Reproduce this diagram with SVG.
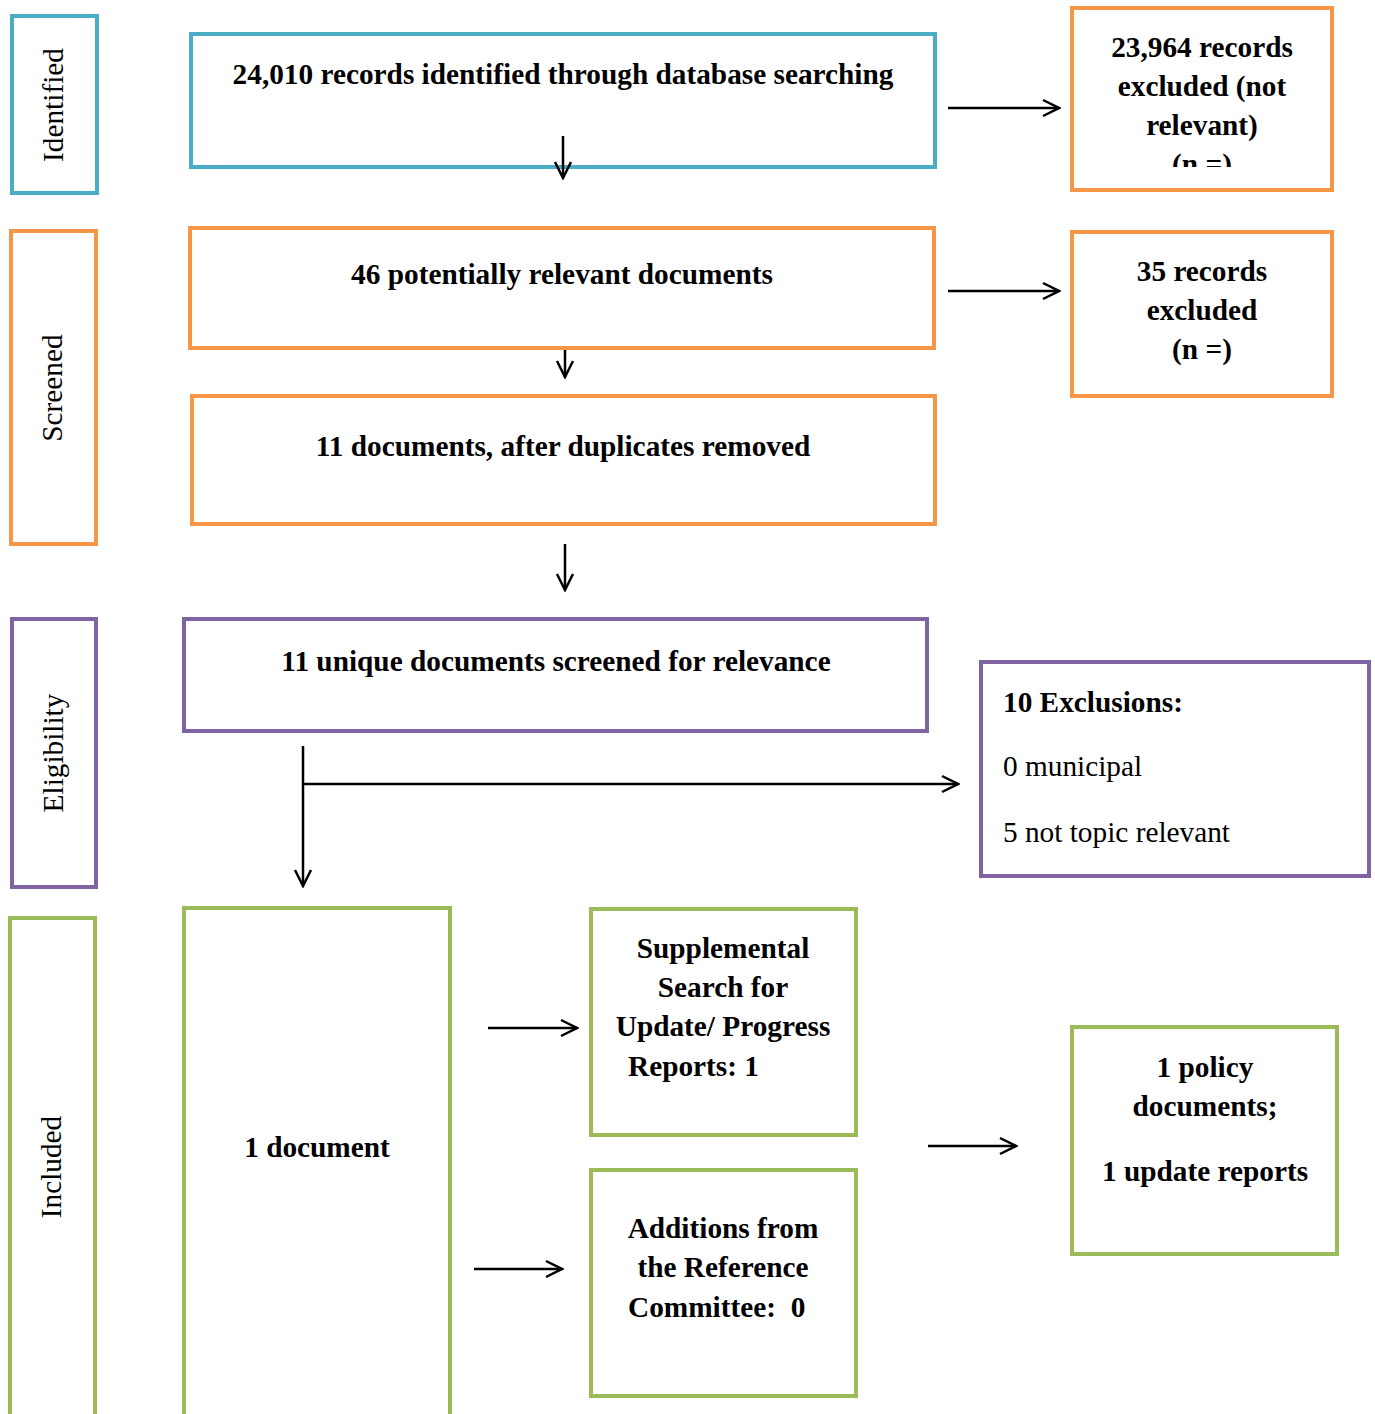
<svg xmlns="http://www.w3.org/2000/svg" width="1375" height="1414" viewBox="0 0 1375 1414">
<style>
.b{fill:#fff;stroke-width:4}
.blue{stroke:#4BACC6}.org{stroke:#F79646}.pur{stroke:#8064A2}.grn{stroke:#9BBB59}
.t{font-family:"Liberation Serif","Times New Roman",serif;font-size:29.3px;fill:#000}
.bd{font-weight:bold}
.c{text-anchor:middle}
.ln{stroke:#000;stroke-width:2.5;fill:none}
</style>
<defs>
<marker id="ah" viewBox="0 0 20 20" refX="18" refY="10" markerWidth="20" markerHeight="20" markerUnits="userSpaceOnUse" orient="auto">
<path d="M2,2 L18,10 L2,18" fill="none" stroke="#000" stroke-width="2.5"/>
</marker>
<clipPath id="cl1"><rect x="1072" y="8" width="262" height="159"/></clipPath>
</defs>
<g id="stage-identified"><rect class="b blue" x="12" y="16" width="85" height="177"/><text class="t" transform="translate(63,105) rotate(-90)" text-anchor="middle">Identified</text></g>
<g id="stage-screened"><rect class="b org" x="11" y="231" width="85" height="313"/><text class="t" transform="translate(62,388) rotate(-90)" text-anchor="middle">Screened</text></g>
<g id="stage-eligibility"><rect class="b pur" x="12" y="619" width="84" height="268"/><text class="t" transform="translate(63,753) rotate(-90)" text-anchor="middle">Eligibility</text></g>
<g id="stage-included"><rect class="b grn" x="10" y="918" width="85" height="500"/><text class="t" transform="translate(61,1167) rotate(-90)" text-anchor="middle">Included</text></g>

<g id="n-records"><rect class="b blue" x="191" y="34" width="744" height="133"/><text class="t bd c" x="563" y="84">24,010 records identified through database searching</text></g>
<g id="n-excl1"><rect class="b org" x="1072" y="8" width="260" height="182"/>
<g clip-path="url(#cl1)"><text class="t bd c" x="1202" y="57">23,964 records</text><text class="t bd c" x="1202" y="96">excluded (not</text><text class="t bd c" x="1202" y="135">relevant)</text><text class="t bd c" x="1202" y="174">(n =)</text></g></g>
<g id="n-46"><rect class="b org" x="190" y="228" width="744" height="120"/><text class="t bd c" x="562" y="284">46 potentially relevant documents</text></g>
<g id="n-excl2"><rect class="b org" x="1072" y="232" width="260" height="164"/><text class="t bd c" x="1202" y="281">35 records</text><text class="t bd c" x="1202" y="320">excluded</text><text class="t bd c" x="1202" y="359">(n =)</text></g>
<g id="n-11"><rect class="b org" x="192" y="396" width="743" height="128"/><text class="t bd c" x="563" y="456">11 documents, after duplicates removed</text></g>
<g id="n-unique"><rect class="b pur" x="184" y="619" width="743" height="112"/><text class="t bd c" x="556" y="671">11 unique documents screened for relevance</text></g>
<g id="n-exclusions"><rect class="b pur" x="981" y="662" width="388" height="214"/><text class="t bd" x="1003" y="712">10 Exclusions:</text><text class="t" x="1003" y="776">0 municipal</text><text class="t" x="1003" y="842">5 not topic relevant</text></g>
<g id="n-1doc"><rect class="b grn" x="184" y="908" width="266" height="510"/><text class="t bd c" x="317" y="1157">1 document</text></g>
<g id="n-supp"><rect class="b grn" x="591" y="909" width="265" height="226"/><text class="t bd c" x="723" y="958">Supplemental</text><text class="t bd c" x="723" y="997">Search for</text><text class="t bd c" x="723" y="1036">Update/ Progress</text><text class="t bd" x="628" y="1076">Reports: 1</text></g>
<g id="n-add"><rect class="b grn" x="591" y="1170" width="265" height="226"/><text class="t bd c" x="723" y="1238">Additions from</text><text class="t bd c" x="723" y="1277">the Reference</text><text class="t bd" x="628" y="1317" xml:space="preserve">Committee:  0</text></g>
<g id="n-policy"><rect class="b grn" x="1072" y="1027" width="265" height="227"/><text class="t bd c" x="1205" y="1077">1 policy</text><text class="t bd c" x="1205" y="1116">documents;</text><text class="t bd c" x="1205" y="1181">1 update reports</text></g>

<g id="connectors">
<line class="ln" x1="563" y1="136" x2="563" y2="178" marker-end="url(#ah)"/>
<line class="ln" x1="948" y1="108" x2="1059" y2="108" marker-end="url(#ah)"/>
<line class="ln" x1="948" y1="291" x2="1059" y2="291" marker-end="url(#ah)"/>
<line class="ln" x1="565" y1="350" x2="565" y2="377" marker-end="url(#ah)"/>
<line class="ln" x1="565" y1="544" x2="565" y2="590" marker-end="url(#ah)"/>
<line class="ln" x1="303" y1="746" x2="303" y2="886" marker-end="url(#ah)"/>
<line class="ln" x1="303" y1="784" x2="958" y2="784" marker-end="url(#ah)"/>
<line class="ln" x1="488" y1="1028" x2="577" y2="1028" marker-end="url(#ah)"/>
<line class="ln" x1="474" y1="1269" x2="562" y2="1269" marker-end="url(#ah)"/>
<line class="ln" x1="928" y1="1146" x2="1016" y2="1146" marker-end="url(#ah)"/>
</g>
</svg>
